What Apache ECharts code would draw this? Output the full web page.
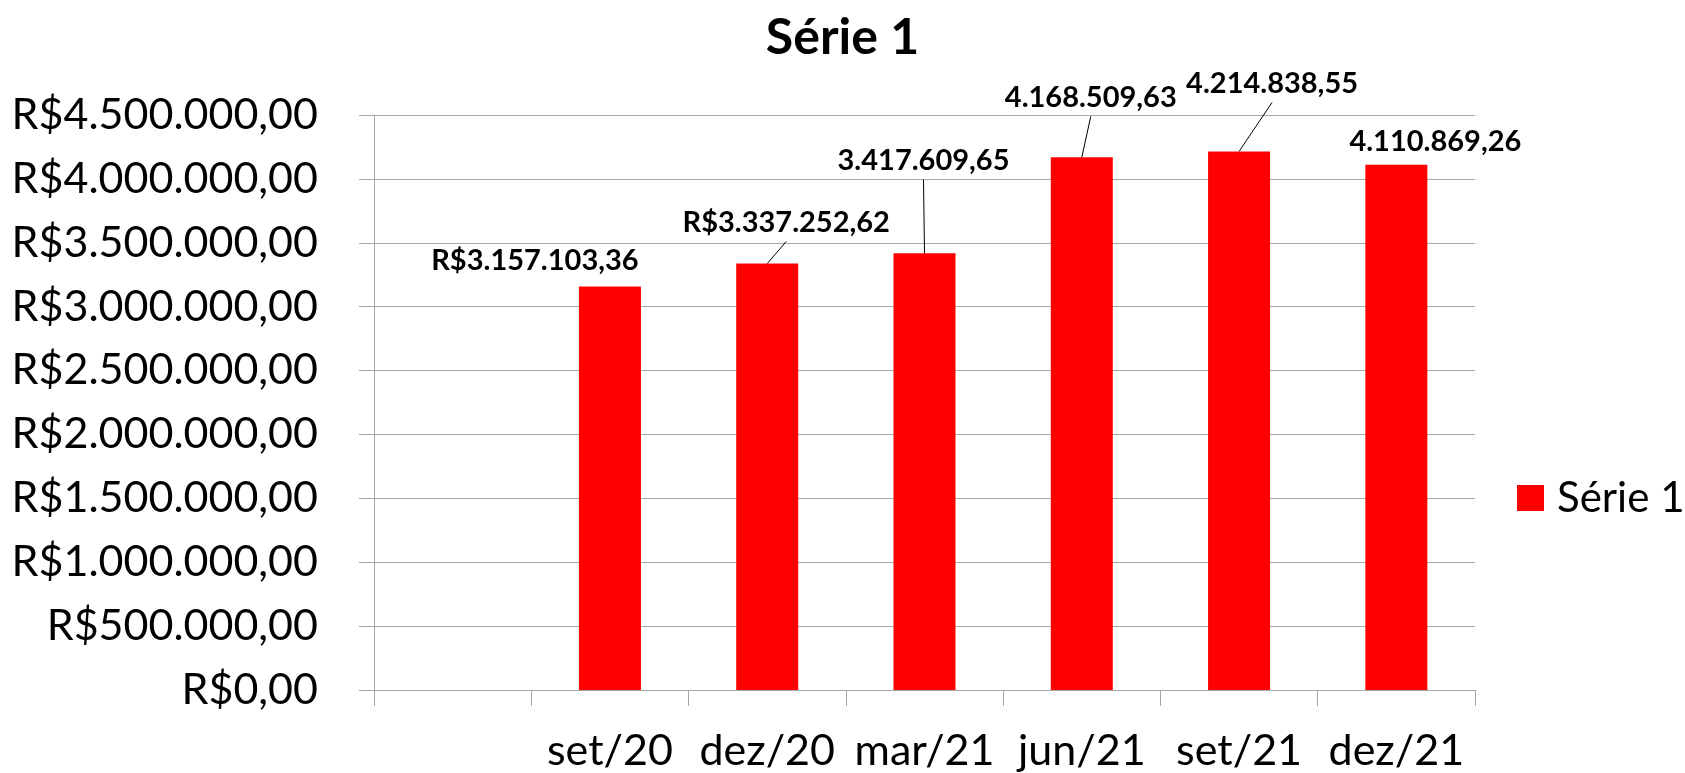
<!DOCTYPE html>
<html>
<head>
<meta charset="utf-8">
<script src="https://cdn.jsdelivr.net/npm/echarts@6/dist/echarts.min.js"></script>
<style>
html,body{margin:0;padding:0;background:#fff;}
#chart{width:1685px;height:773px;}
</style>
</head>
<body>
<div id="chart"></div>
<script>
const titleText = "Série 1";
const seriesName = "Série 1";
const categories = ["", "set/20", "dez/20", "mar/21", "jun/21", "set/21", "dez/21"];
const values = [null, 3157103.36, 3337252.62, 3417609.65, 4168509.63, 4214838.55, 4110869.26];
const labelPrefixes = ["", "R$", "R$", "", "", "", ""];
const yMin = 0, yMax = 4500000, yInterval = 500000;

function fmtBR(v) {
  const parts = v.toFixed(2).split('.');
  return parts[0].replace(/\B(?=(\d{3})+(?!\d))/g, '.') + ',' + parts[1];
}

// label offsets (style only) and which labels get a leader line
const labelShift = [[0,0], [-75,-6], [19,-21], [-1,-73], [9,-40], [33,-48], [39,-4]];
const leader = [false, false, true, true, true, true, false];
const LABEL_DIST = 5;

const chart = echarts.init(document.getElementById('chart'));
const FONT = 'Lato';
chart.setOption({
  animation: false,
  backgroundColor: '#ffffff',
  title: {
    text: titleText, left: 'center', top: 8,
    textStyle: {fontFamily: FONT, fontWeight: 'bold', fontSize: 50, color: '#000'}
  },
  legend: {
    left: 1512, top: 472, itemWidth: 27, itemHeight: 26,
    icon: 'rect',
    textStyle: {fontFamily: FONT, fontSize: 42, color: '#000', padding: [0,0,0,8]},
    data: [seriesName]
  },
  grid: {left: 374, right: 210, top: 115, bottom: 83, containLabel: false},
  xAxis: {
    type: 'category', data: categories,
    axisLine: {lineStyle: {color: '#a6a6a6', width: 1}},
    axisTick: {show: true, length: 16, lineStyle: {color: '#a6a6a6'}},
    axisLabel: {fontFamily: FONT, fontSize: 43, color: '#000', margin: 40, interval: 0},
    splitLine: {show: false}
  },
  yAxis: {
    type: 'value', min: yMin, max: yMax, interval: yInterval,
    axisLine: {show: true, lineStyle: {color: '#a6a6a6', width: 1}},
    axisTick: {show: true, length: 15, lineStyle: {color: '#a6a6a6'}},
    axisLabel: {fontFamily: FONT, fontSize: 43, color: '#000', margin: 56,
      formatter: v => 'R$' + fmtBR(v)},
    splitLine: {show: true, lineStyle: {color: '#a6a6a6', width: 1}}
  },
  series: [{
    name: seriesName, type: 'bar', barWidth: 62,
    itemStyle: {color: '#ff0000'},
    data: values,
    label: {
      show: true, position: 'top', distance: LABEL_DIST,
      fontFamily: FONT, fontWeight: 'bold', fontSize: 29, color: '#000',
      formatter: p => p.value == null ? '' : labelPrefixes[p.dataIndex] + fmtBR(p.value)
    },
    labelLayout: p => ({dx: labelShift[p.dataIndex][0], dy: labelShift[p.dataIndex][1]})
  }, {
    name: 'leaders', type: 'custom', silent: true, z: 5,
    data: values.map((v, i) => [i, v]),
    encode: {x: 0, y: 1},
    renderItem: (params, api) => {
      const i = params.dataIndex;
      if (!leader[i] || values[i] == null) return null;
      const top = api.coord([i, values[i]]);
      const s = labelShift[i];
      const x1 = top[0], y1 = top[1];
      const x2 = top[0] + s[0], y2 = top[1] - LABEL_DIST + s[1] + 4;
      return {type: 'line', shape: {x1, y1, x2, y2}, style: {stroke: '#000', lineWidth: 1}};
    }
  }]
});
</script>
</body>
</html>
